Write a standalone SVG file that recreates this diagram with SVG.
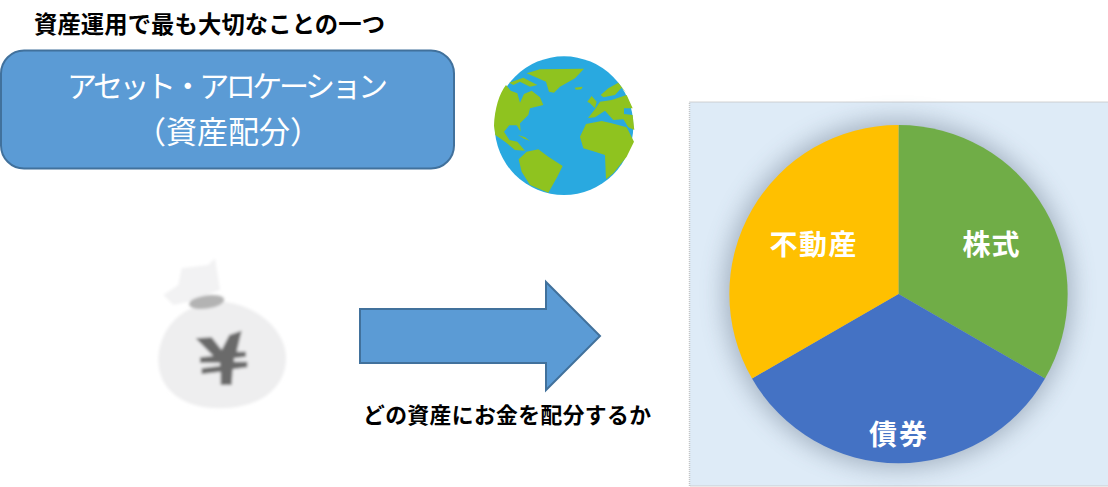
<svg xmlns="http://www.w3.org/2000/svg" width="1108" height="487" viewBox="0 0 1108 487">
<style>
text{font-family:"Noto Sans CJK JP","Noto Sans CJK SC",sans-serif}
.b{font-weight:700;fill:#000}
.w{fill:#fff;font-weight:400}
.p{fill:#fff;font-weight:700;font-size:28px;text-anchor:middle}
.land{fill:#8fc31f}
</style>
<defs>
<filter id="sh" x="-20%" y="-20%" width="140%" height="140%"><feGaussianBlur stdDeviation="12"/></filter>
<filter id="bl" x="-10%" y="-10%" width="120%" height="120%"><feGaussianBlur stdDeviation="4"/></filter>
</defs>
<rect width="1108" height="487" fill="#fff"/>
<text id="title" class="b" x="34" y="33" font-size="23.3" textLength="351">資産運用で最も大切なことの一つ</text>
<g id="node-allocation">
<rect x="1" y="50.500" width="453" height="118" rx="23" fill="#5b9bd5" stroke="#41719c" stroke-width="2"/>
<text class="w" x="67" y="97" font-size="30" textLength="321">アセット・アロケーション</text>
<text class="w" x="228" y="143" font-size="31" text-anchor="middle">（資産配分）</text>
</g>
<g id="node-globe" transform="translate(480 40) scale(.3333)">
<circle cx="252" cy="257" r="208" fill="#29a9e0"/>
<path class="land" d="M140 100L180 88 312 86 285 115 240 140 222 158 207 155 198 125Z"/>
<path class="land" d="M284 143L308 140 304 148 288 149Z"/>
<path class="land" d="M88 128L130 113 172 135 150 140 120 125 100 135Z"/>
<path class="land" d="M78 135C58 160 44 205 42 257L46 285 75 305 105 330 135 332 112 305 88 300 72 275 88 256 110 256 122 275 120 250 145 225 150 205 190 195 180 172 155 152 132 162 120 188 112 160 92 152Z"/>
<path class="land" d="M116 358L140 335 175 328 205 350 248 378 232 410 205 458 150 435 125 395Z"/>
<path class="land" d="M114 285L135 292 150 303 130 295Z"/>
<path class="land" d="M322 185L335 168 350 185 345 205 330 190Z"/>
<path class="land" d="M362 165L385 145 415 128 440 160 425 143 405 165 370 172Z"/>
<path class="land" d="M324 234L345 208 360 185 395 180 440 165 458 205 432 205 432 222 458 225 463 270 445 262 430 238 400 240 375 212 345 232Z"/>
<path class="land" d="M300 290L318 252 365 243 395 250 440 262 462 305 440 350 400 400 378 418 375 345 345 335 310 325Z"/>
</g>
<g id="node-moneybag" transform="translate(130 240) scale(.3333)" filter="url(#bl)">
<path d="M100 165L145 135 155 85 235 75 255 55 270 150 175 185 130 195Z" fill="#f2f2f3"/>
<path d="M85 360C85 280 140 215 200 200L280 185C380 195 465 270 468 350 470 450 380 505 270 505 160 505 85 450 85 360Z" fill="#eeeeef"/>
<ellipse cx="230" cy="186" rx="53" ry="20" transform="rotate(-8 230 186)" fill="#b3b3b3"/>
<path d="M197 295L245 292 275 330 298 285 335 272 320 335 348 335 348 350 312 355 312 365 352 365 352 382 308 388 305 435 272 435 272 395 215 402 215 385 270 378 270 368 210 368 210 352 250 348Z" fill="#6a6a6a"/>
</g>
<g id="connectors">
<path d="M360 309H546V282L600 336 546 390V363H360Z" fill="#5b9bd5" stroke="#41719c" stroke-width="2"/>
</g>
<text id="arrow-label" class="b" x="363" y="423" font-size="21.800" textLength="288">どの資産にお金を配分するか</text>
<g id="node-chart">
<rect x="689.500" y="102" width="430" height="384" fill="#deebf7" stroke="#c4c4c4" stroke-width="1.500" stroke-dasharray="1 1"/>
<circle cx="898" cy="294" r="174" fill="#44546a" opacity=".38" filter="url(#sh)"/>
<path d="M898.500 294V125A169 169 0 0 1 1045 378.500Z" fill="#70ad47"/>
<path d="M898.500 294L1045 378.500A169 169 0 0 1 752 378.500Z" fill="#4472c4"/>
<path d="M898.500 294L752 378.500A169 169 0 0 1 898.500 125Z" fill="#ffc000"/>
<text class="p" x="813" y="255" textLength="87">不動産</text>
<text class="p" x="991" y="255" textLength="57">株式</text>
<text class="p" x="898" y="445" textLength="58">債券</text>
</g>
</svg>
